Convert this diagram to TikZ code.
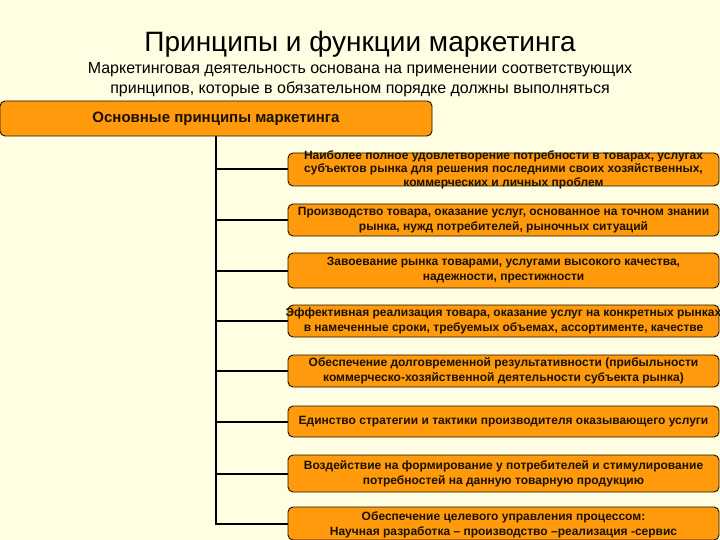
\documentclass[tikz,border=0pt]{standalone}
\usepackage{fontspec}
\setmainfont{Liberation Sans}
\definecolor{bg}{HTML}{FFFEE2}
\definecolor{org}{HTML}{FF9A0C}
\definecolor{txt}{HTML}{1A1200}
\begin{document}
\begin{tikzpicture}[x=1pt,y=-1pt,
  box/.style={draw=txt, line width=0.9pt, fill=org, rounded corners=5pt, minimum width=431pt, inner sep=0pt},
  boxtxt/.style={text=txt, font=\bfseries\fontsize{12}{15}\selectfont, align=center, inner sep=0pt},
  conn/.style={draw=black, line width=2pt}]
\fill[bg] (0,0) rectangle (720,540);
\useasboundingbox (0,0) rectangle (720,540);
\node[font=\fontsize{28}{32}\selectfont, text=black] (title) at (360,44) {Принципы и функции маркетинга};
\node[font=\fontsize{16}{20}\selectfont, text=black, align=center] (sub) at (360,79.5) {Маркетинговая деятельность основана на применении соответствующих\\принципов, которые в обязательном порядке должны выполняться};
\node[box, minimum width=432pt, minimum height=35pt] (top) at (216,118.5) {};
\node[boxtxt, font=\bfseries\fontsize{15}{18}\selectfont] (toptxt) at (216,118.5) {Основные принципы маркетинга};
\node[box, minimum height=33pt] (b1) at (503.5,169.5) {};
\node[boxtxt, font=\bfseries\fontsize{12}{13.5}\selectfont] (t1) at (b1) {Наиболее полное удовлетворение потребности в товарах, услугах\\субъектов рынка для решения последними своих хозяйственных,\\коммерческих и личных проблем};
\node[box, minimum height=32pt] (b2) at (503.5,220) {};
\node[boxtxt] (t2) at (b2) {Производство товара, оказание услуг, основанное на точном знании\\рынка, нужд потребителей, рыночных ситуаций};
\node[box, minimum height=35pt] (b3) at (503.5,270.5) {};
\node[boxtxt] (t3) at (b3) {Завоевание рынка товарами, услугами высокого качества,\\надежности, престижности};
\node[box, minimum height=32pt] (b4) at (503.5,321) {};
\node[boxtxt] (t4) at (b4) {Эффективная реализация товара, оказание услуг на конкретных рынках\\в намеченные сроки, требуемых объемах, ассортименте, качестве};
\node[box, minimum height=32pt] (b5) at (503.5,371) {};
\node[boxtxt] (t5) at (b5) {Обеспечение долговременной результативности (прибыльности\\коммерческо-хозяйственной  деятельности субъекта рынка)};
\node[box, minimum height=31pt] (b6) at (503.5,421.5) {};
\node[boxtxt] (t6) at (b6) {Единство стратегии и тактики производителя оказывающего услуги};
\node[box, minimum height=37pt] (b7) at (503.5,473.5) {};
\node[boxtxt] (t7) at (b7) {Воздействие на формирование у потребителей и стимулирование\\потребностей на данную товарную продукцию};
\node[box, minimum height=33pt] (b8) at (503.5,523.5) {};
\node[boxtxt] (t8) at (503.5,524.5) {Обеспечение целевого управления процессом:\\Научная разработка -- производство --реализация -сервис};
\draw[conn] (top.south) |- (b8.west);
\foreach \n in {b1,b2,b3,b4,b5,b6,b7}{
  \draw[conn] (top.south |- \n.west) -- (\n.west);
}
\end{tikzpicture}
\end{document}
